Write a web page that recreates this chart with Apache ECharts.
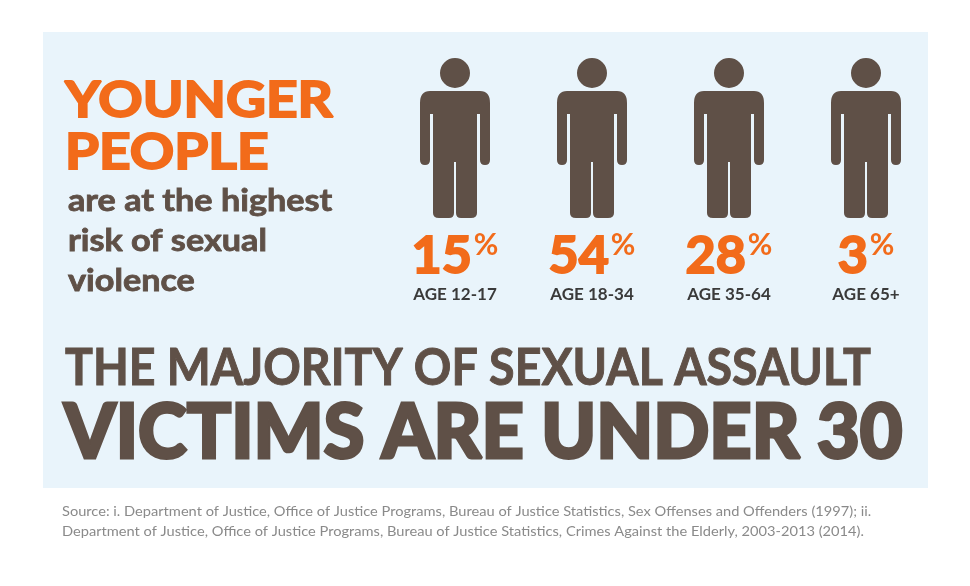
<!DOCTYPE html><html><head><meta charset="utf-8">
<script src="https://cdn.jsdelivr.net/npm/echarts@6/dist/echarts.min.js"></script>
<style>html,body{margin:0;background:#fff}#c{width:970px;height:586px}</style></head><body><div id="c"></div>
<script>
const ageGroups = ['AGE 12-17','AGE 18-34','AGE 35-64','AGE 65+'];
const percentages = [15, 54, 28, 3];
const headline = ['YOUNGER','PEOPLE'];
const subline = ['are at the highest','risk of sexual','violence'];
const title1 = 'THE MAJORITY OF SEXUAL ASSAULT';
const title2 = 'VICTIMS ARE UNDER 30';
const source = ['Source: i. Department of Justice, Office of Justice Programs, Bureau of Justice Statistics, Sex Offenses and Offenders (1997); ii.',
 'Department of Justice, Office of Justice Programs, Bureau of Justice Statistics, Crimes Against the Elderly, 2003-2013 (2014).'];
const BROWN='#5f5047', ORANGE='#f26b1a', F='Lato';
const person='path://M35 0 A15 15 0 1 1 35 30 A15 15 0 1 1 35 0 Z M10 33 H60 Q70 33 70 45 V102 Q70 107 65 107 Q60 107 60 102 V56 H57 V155 Q57 160 51 160 H41 Q36 160 36 155 V104 H34 V155 Q34 160 29 160 H19 Q13 160 13 155 V56 H10 V102 Q10 107 5 107 Q0 107 0 102 V45 Q0 33 10 33 Z';
const ch=echarts.init(document.getElementById('c'));
const g=[{type:'rect',shape:{x:43,y:32,width:885,height:456},style:{fill:'#e9f4fb'},z:-10}];
headline.forEach((t,i)=>g.push({type:'text',x:65,y:76+i*52,scaleX:1.1,style:{text:t,font:'bold 50px '+F,fill:ORANGE,stroke:ORANGE,lineWidth:2}}));
subline.forEach((t,i)=>g.push({type:'text',x:68,y:186+i*40,scaleX:1.14,style:{text:t,font:'bold 30px '+F,fill:BROWN,stroke:BROWN,lineWidth:0.8}}));
g.push({type:'text',x:65,y:342,scaleX:0.895,style:{text:title1,font:'bold 52px '+F,fill:BROWN,stroke:BROWN,lineWidth:1}});
g.push({type:'text',x:64,y:395,scaleX:0.97,style:{text:title2,font:'900 76px '+F,fill:BROWN,stroke:BROWN,lineWidth:3}});
source.forEach((t,i)=>g.push({type:'text',x:62,y:504+i*20,scaleX:1.045,style:{text:t,font:'14px '+F,fill:'#8a8a8a'}}));
ch.setOption({animation:false,graphic:g,
grid:{left:386.5,right:35.5,top:58,height:160},
xAxis:{type:'category',data:ageGroups,show:false},
yAxis:{min:0,max:1,show:false},
series:[{type:'scatter',symbol:person,symbolSize:[70,160],itemStyle:{color:BROWN,opacity:1},
data:percentages.map(()=>0.5),
label:{show:true,position:'bottom',distance:12,formatter:p=>'{p|'+percentages[p.dataIndex]+'}{s|%}\n{a|'+ageGroups[p.dataIndex]+'}',
rich:{p:{fontSize:52,fontWeight:'bold',fontFamily:F,color:ORANGE,textBorderColor:ORANGE,textBorderWidth:2,lineHeight:52},s:{fontSize:30,fontWeight:'bold',fontFamily:F,color:ORANGE,verticalAlign:'top',lineHeight:52,padding:[0,0,14,2]},a:{fontSize:17,fontWeight:'bold',fontFamily:F,color:'#3a3a3a',lineHeight:26}}}}]});
</script></body></html>
